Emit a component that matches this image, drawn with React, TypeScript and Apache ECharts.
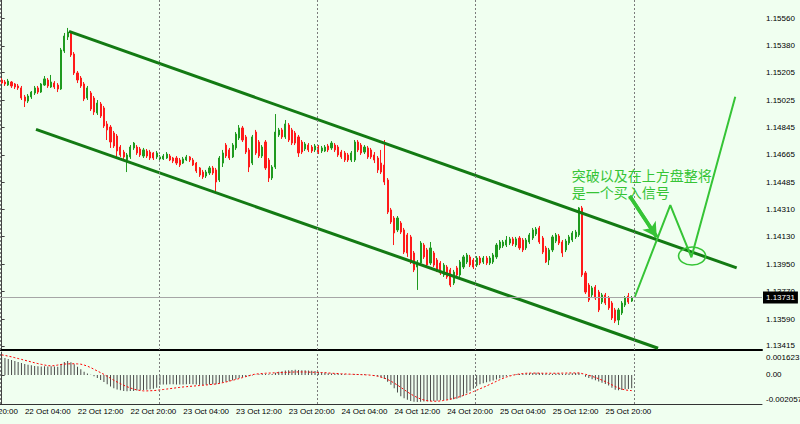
import React, { useEffect, useRef } from "react";
import * as echarts from "echarts";

// ---------- time axis ----------
const MONTHS = ["Jan", "Feb", "Mar", "Apr", "May", "Jun", "Jul", "Aug", "Sep", "Oct", "Nov", "Dec"];
const firstBarTime = Date.UTC(2018, 9, 21, 21, 0);
const barMinutes = 30;
const slotCount = 231; // bar slots incl. empty space to the right
const labelEvery = 16;
const labelOffset = 14;
const hiddenLeftLabel = { slot: -2, text: "21 Oct 20:00" };

// ---------- EURUSD M30 candles: [open, close, low, high] ----------
const candles: number[][] = [
  [1.15156, 1.15136, 1.1513, 1.15169], [1.15143, 1.1513, 1.15117, 1.15156], [1.15123, 1.15149, 1.15117, 1.15163],
  [1.15143, 1.15117, 1.15104, 1.15149], [1.1513, 1.1511, 1.15097, 1.15136], [1.15117, 1.15104, 1.15091, 1.1513],
  [1.15104, 1.15038, 1.15025, 1.15117], [1.15045, 1.15018, 1.14979, 1.15058], [1.15018, 1.15051, 1.15005, 1.15064],
  [1.15045, 1.15077, 1.15032, 1.15084], [1.15071, 1.15104, 1.15058, 1.15117], [1.15104, 1.15077, 1.15064, 1.15117],
  [1.15077, 1.1513, 1.15071, 1.15136], [1.15123, 1.15163, 1.15117, 1.15182], [1.15156, 1.15117, 1.15104, 1.15169],
  [1.1511, 1.15143, 1.15104, 1.15189], [1.15136, 1.1511, 1.15097, 1.15149], [1.15123, 1.15097, 1.15077, 1.15136],
  [1.15097, 1.15353, 1.15091, 1.15366], [1.15346, 1.15444, 1.15333, 1.15464], [1.15438, 1.1547, 1.15418, 1.15497],
  [1.1547, 1.1532, 1.15307, 1.15477], [1.15326, 1.15202, 1.15189, 1.15339], [1.15202, 1.15156, 1.15136, 1.15215],
  [1.15169, 1.15117, 1.15104, 1.15182], [1.1513, 1.15032, 1.15018, 1.15143], [1.15038, 1.15104, 1.15025, 1.15117],
  [1.15071, 1.14966, 1.14953, 1.15084], [1.15038, 1.14946, 1.14927, 1.15051], [1.1494, 1.15005, 1.14927, 1.15025],
  [1.14999, 1.1492, 1.14907, 1.15012], [1.14973, 1.14855, 1.14842, 1.14986], [1.14868, 1.14829, 1.14763, 1.14887],
  [1.14848, 1.1475, 1.14711, 1.14861], [1.14809, 1.14724, 1.14711, 1.14822], [1.14789, 1.14691, 1.14652, 1.14802],
  [1.14717, 1.14665, 1.14652, 1.1473], [1.14684, 1.14652, 1.14632, 1.14698], [1.14632, 1.14665, 1.14553, 1.14678],
  [1.14652, 1.14717, 1.14639, 1.1473], [1.14711, 1.14743, 1.14698, 1.1475], [1.14717, 1.14678, 1.14665, 1.1473],
  [1.14704, 1.14665, 1.14652, 1.14717], [1.14658, 1.14698, 1.14645, 1.14711], [1.14691, 1.14658, 1.14645, 1.14704],
  [1.14684, 1.14645, 1.14632, 1.14698], [1.14678, 1.14645, 1.14632, 1.14684], [1.14652, 1.14678, 1.14639, 1.14691],
  [1.14639, 1.14652, 1.14625, 1.14665], [1.14639, 1.14658, 1.14632, 1.14671], [1.14645, 1.14671, 1.14639, 1.14684],
  [1.14658, 1.14632, 1.14625, 1.14671], [1.14645, 1.14625, 1.14612, 1.14652], [1.14645, 1.14612, 1.14599, 1.14658],
  [1.14632, 1.14599, 1.14586, 1.14645], [1.14612, 1.14639, 1.14606, 1.14652], [1.14632, 1.14652, 1.14625, 1.14665],
  [1.14652, 1.14632, 1.14619, 1.14658], [1.14632, 1.14599, 1.14593, 1.14645], [1.14612, 1.1456, 1.14547, 1.14619],
  [1.1458, 1.14534, 1.14521, 1.14586], [1.14553, 1.14521, 1.14508, 1.14567], [1.14527, 1.14553, 1.14514, 1.14567],
  [1.14547, 1.1458, 1.14534, 1.14593], [1.1458, 1.14547, 1.14534, 1.14593], [1.14567, 1.14488, 1.14422, 1.1458],
  [1.14501, 1.14645, 1.14488, 1.14658], [1.14612, 1.14678, 1.14586, 1.14698], [1.1473, 1.14658, 1.14645, 1.14743],
  [1.14698, 1.14645, 1.14632, 1.14711], [1.14652, 1.1473, 1.14645, 1.14743], [1.14711, 1.14802, 1.14698, 1.14815],
  [1.14776, 1.14842, 1.14763, 1.14861], [1.14842, 1.14763, 1.1475, 1.14855], [1.14783, 1.14684, 1.14671, 1.14796],
  [1.14698, 1.14586, 1.14553, 1.14711], [1.14612, 1.14783, 1.14599, 1.14796], [1.14815, 1.14678, 1.14665, 1.14829],
  [1.1475, 1.14658, 1.14645, 1.14763], [1.14658, 1.14717, 1.14645, 1.1473], [1.1475, 1.1458, 1.14567, 1.14763],
  [1.14632, 1.14514, 1.14488, 1.14645], [1.14514, 1.14586, 1.14501, 1.14599], [1.14586, 1.14815, 1.14573, 1.14933],
  [1.14796, 1.14829, 1.14783, 1.14842], [1.14829, 1.14783, 1.1477, 1.14842], [1.14783, 1.14868, 1.1477, 1.14894],
  [1.14861, 1.14763, 1.1475, 1.14874], [1.14829, 1.14743, 1.1473, 1.14842], [1.14809, 1.14743, 1.1473, 1.14822],
  [1.14783, 1.14678, 1.14652, 1.14796], [1.1475, 1.14684, 1.14671, 1.14763], [1.14704, 1.14737, 1.14691, 1.1475],
  [1.1473, 1.14698, 1.14684, 1.14743], [1.14717, 1.14691, 1.14678, 1.1473], [1.14698, 1.14724, 1.14684, 1.14737],
  [1.14717, 1.14684, 1.14671, 1.1473], [1.14691, 1.14711, 1.14678, 1.14724], [1.14691, 1.14717, 1.14684, 1.1473],
  [1.14724, 1.14698, 1.14684, 1.14737], [1.14711, 1.14743, 1.14698, 1.14756], [1.1473, 1.14698, 1.14684, 1.14743],
  [1.14717, 1.14665, 1.14652, 1.1473], [1.14684, 1.14652, 1.14639, 1.14698], [1.14678, 1.14632, 1.14619, 1.14691],
  [1.14665, 1.14632, 1.14619, 1.14678], [1.14632, 1.14678, 1.14619, 1.14691], [1.14632, 1.1475, 1.14619, 1.14763],
  [1.1475, 1.14698, 1.14684, 1.14763], [1.1473, 1.14678, 1.14665, 1.14743], [1.14684, 1.14717, 1.14671, 1.1473],
  [1.14711, 1.14652, 1.14639, 1.14724], [1.14698, 1.14652, 1.14639, 1.14711], [1.14665, 1.14632, 1.14612, 1.14684],
  [1.14645, 1.14567, 1.14547, 1.14658], [1.14612, 1.14553, 1.1454, 1.14698], [1.14599, 1.14488, 1.14468, 1.14763],
  [1.14501, 1.14291, 1.14278, 1.14514], [1.14305, 1.14226, 1.14213, 1.14318], [1.14252, 1.14154, 1.14075, 1.14265],
  [1.14174, 1.14252, 1.1416, 1.14265], [1.14219, 1.1416, 1.14147, 1.14232], [1.14174, 1.14029, 1.14016, 1.14187],
  [1.14141, 1.14023, 1.13997, 1.14154], [1.14128, 1.13964, 1.13951, 1.14141], [1.14023, 1.13912, 1.13898, 1.14036],
  [1.13931, 1.13964, 1.13781, 1.13977], [1.13957, 1.14088, 1.13944, 1.14101], [1.14075, 1.13997, 1.13984, 1.14088],
  [1.14043, 1.13944, 1.13931, 1.14056], [1.13957, 1.14056, 1.13944, 1.14095], [1.14023, 1.13944, 1.13931, 1.14036],
  [1.13977, 1.13912, 1.13898, 1.1399], [1.13957, 1.13892, 1.13879, 1.1397], [1.13879, 1.13944, 1.13866, 1.13957],
  [1.13931, 1.13866, 1.13853, 1.13944], [1.13912, 1.13813, 1.138, 1.13925], [1.13826, 1.13898, 1.13813, 1.13912],
  [1.13925, 1.13879, 1.13866, 1.13938], [1.13879, 1.13964, 1.13866, 1.13977], [1.13931, 1.13997, 1.13918, 1.1401],
  [1.13964, 1.1401, 1.13951, 1.14023], [1.13997, 1.13944, 1.13931, 1.1401], [1.13977, 1.13931, 1.13918, 1.1399],
  [1.13944, 1.1399, 1.13931, 1.14003], [1.1399, 1.13957, 1.13944, 1.14003], [1.13964, 1.1399, 1.13951, 1.14003],
  [1.1399, 1.13957, 1.13944, 1.14003], [1.13957, 1.1399, 1.13944, 1.14003], [1.13964, 1.1401, 1.13951, 1.14023],
  [1.13997, 1.14075, 1.13984, 1.14088], [1.14056, 1.14095, 1.14043, 1.14108], [1.14069, 1.14095, 1.14056, 1.14108],
  [1.14075, 1.14108, 1.14062, 1.14134], [1.14088, 1.14115, 1.14075, 1.14128], [1.14115, 1.14082, 1.14069, 1.14128],
  [1.14075, 1.14115, 1.14062, 1.14128], [1.14121, 1.14056, 1.14043, 1.14134], [1.14108, 1.14043, 1.14029, 1.14121],
  [1.14056, 1.14108, 1.14043, 1.14121], [1.14095, 1.14141, 1.14082, 1.14154], [1.14121, 1.14174, 1.14108, 1.14187],
  [1.14147, 1.1418, 1.14134, 1.14193], [1.14187, 1.14095, 1.14082, 1.142], [1.14121, 1.14029, 1.14016, 1.14134],
  [1.14056, 1.13964, 1.13957, 1.14069], [1.13977, 1.14043, 1.13944, 1.14056], [1.14043, 1.14128, 1.14029, 1.14141],
  [1.14101, 1.14141, 1.14088, 1.14154], [1.14134, 1.14088, 1.14075, 1.14147], [1.14095, 1.14023, 1.13997, 1.14108],
  [1.14043, 1.14101, 1.14029, 1.14115], [1.14088, 1.14128, 1.14075, 1.14141], [1.14108, 1.14154, 1.14095, 1.14167],
  [1.14128, 1.1416, 1.14115, 1.14174], [1.14141, 1.14318, 1.14128, 1.14324], [1.14318, 1.13879, 1.13866, 1.14331],
  [1.13892, 1.13767, 1.13754, 1.13905], [1.13813, 1.13715, 1.13702, 1.13826], [1.13748, 1.13794, 1.13735, 1.13807],
  [1.138, 1.13728, 1.13715, 1.13813], [1.13767, 1.1365, 1.13636, 1.13781], [1.13702, 1.13748, 1.13689, 1.13761],
  [1.13748, 1.13695, 1.13682, 1.13761], [1.13728, 1.13663, 1.1365, 1.13741], [1.13695, 1.13597, 1.13584, 1.13708],
  [1.1365, 1.13577, 1.13564, 1.13663], [1.13584, 1.1365, 1.13551, 1.13663], [1.1363, 1.13695, 1.13617, 1.13708],
  [1.13682, 1.13728, 1.13669, 1.13741], [1.13741, 1.13702, 1.13689, 1.13761], [1.13708, 1.13731, 1.13702, 1.13741],
];

// ---------- MACD (histogram = MACD main, red dotted = signal) ----------
const macdHist: number[] = [
  0.00125, 0.0012, 0.00113, 0.00106, 0.00099, 0.00092, 0.00085, 0.00078, 0.00072, 0.00068,
  0.00064, 0.00062, 0.0006, 0.00061, 0.0006, 0.00062, 0.0006, 0.00058, 0.00078, 0.00092,
  0.00098, 0.0009, 0.00076, 0.00058, 0.0004, 0.00022, 0.0001, 0.00002, -0.0001, -0.00022,
  -0.00035, -0.0005, -0.00066, -0.00082, -0.00094, -0.00103, -0.00109, -0.00113, -0.00115, -0.00114,
  -0.00113, -0.00111, -0.00109, -0.00107, -0.00105, -0.00102, -0.00098, -0.0009, -0.0007, -0.00068,
  -0.00067, -0.00066, -0.00066, -0.00067, -0.00068, -0.00067, -0.00066, -0.00065, -0.00066, -0.00068,
  -0.0007, -0.00071, -0.0007, -0.00068, -0.00066, -0.00066, -0.0006, -0.00054, -0.00048, -0.00044,
  -0.00038, -0.0003, -0.00022, -0.00016, -0.00012, -0.0001, -0.00004, 0.00002, 0.00005, 0.00008,
  0.00006, 0.00004, 0.00006, 0.00015, 0.00022, 0.00026, 0.00032, 0.00034, 0.00035, 0.00036,
  0.00035, 0.00034, 0.00033, 0.00032, 0.0003, 0.00027, 0.00022, 0.00018, 0.00015, 0.00012,
  0.00011, 0.0001, 0.00008, 0.00006, 0.00004, 0.00002, 0.00002, 0.00005, 0.00006, 0.00005,
  0.00004, 0.00002, -0.00001, -0.00004, -0.0001, -0.00018, -0.00028, -0.00048, -0.0007, -0.00095,
  -0.00125, -0.0015, -0.00165, -0.00176, -0.00185, -0.0019, -0.00191, -0.00189, -0.00188, -0.00188,
  -0.00186, -0.00184, -0.00182, -0.0018, -0.00178, -0.00176, -0.00175, -0.00172, -0.00168, -0.0016,
  -0.00148, -0.0013, -0.00112, -0.00098, -0.0008, -0.00066, -0.00058, -0.00052, -0.00046, -0.0004,
  -0.00032, -0.00024, -0.00018, -0.0001, -0.00004, 0.00002, 0.00005, 0.00006, 0.00007, 0.0001,
  0.00012, 0.00014, 0.00015, 0.00014, 0.00012, 0.00008, 0.00007, 0.00009, 0.0001, 0.0001,
  0.00008, 0.00009, 0.0001, 0.00012, 0.00013, 0.00016, 0.00002, -0.00012, -0.00022, -0.0003,
  -0.00038, -0.00047, -0.00055, -0.00064, -0.00075, -0.0009, -0.00104, -0.00108, -0.00106, -0.00102,
  -0.00099, -0.00094,
];

const macdSignal: number[] = [
  0.00142, 0.00138, 0.00133, 0.00128, 0.00122, 0.00116, 0.0011, 0.00104, 0.00098, 0.00092,
  0.00086, 0.0008, 0.00075, 0.0007, 0.00066, 0.00064, 0.00066, 0.0007, 0.00074, 0.00077,
  0.00078, 0.00079, 0.00079, 0.00078, 0.00076, 0.0007, 0.00062, 0.00052, 0.0004, 0.00028,
  0.00016, 0.00004, -0.0001, -0.00024, -0.00038, -0.0005, -0.00062, -0.00073, -0.00083, -0.00092,
  -0.001, -0.00106, -0.0011, -0.00113, -0.00113, -0.00112, -0.00111, -0.00109, -0.00106, -0.00103,
  -0.001, -0.00097, -0.00094, -0.00091, -0.00088, -0.00085, -0.00083, -0.00081, -0.00079, -0.00077,
  -0.00075, -0.00073, -0.00071, -0.00069, -0.00066, -0.00064, -0.0006, -0.00055, -0.0005, -0.00044,
  -0.00038, -0.00032, -0.00026, -0.00019, -0.00012, -0.00005, 0.00002, 0.00006, 0.00008, 0.0001,
  0.00012, 0.00013, 0.00014, 0.00015, 0.00016, 0.00017, 0.00018, 0.00019, 0.0002, 0.00021,
  0.00021, 0.00021, 0.00021, 0.0002, 0.00019, 0.00019, 0.00018, 0.00017, 0.00016, 0.00014,
  0.00012, 0.00011, 0.0001, 0.00008, 0.00007, 0.00006, 0.00005, 0.00004, 0.00003, 0.00002,
  0.00001, 0.0, -0.00002, -0.00005, -0.00009, -0.00015, -0.00022, -0.00032, -0.00044, -0.00058,
  -0.00072, -0.00088, -0.00104, -0.0012, -0.00135, -0.00148, -0.0016, -0.0017, -0.00177, -0.00182,
  -0.00185, -0.00186, -0.00186, -0.00184, -0.00181, -0.00177, -0.00172, -0.00166, -0.0016, -0.00153,
  -0.00145, -0.00137, -0.00128, -0.00118, -0.00108, -0.00098, -0.00088, -0.00078, -0.00067, -0.00056,
  -0.00045, -0.00034, -0.00024, -0.00015, -0.00008, -0.00002, 0.00003, 0.00007, 0.0001, 0.00012,
  0.00013, 0.00013, 0.00013, 0.00013, 0.00012, 0.00012, 0.00012, 0.00012, 0.00012, 0.00012,
  0.00013, 0.00013, 0.00014, 0.00014, 0.00014, 0.00014, 0.0001, 0.00004, -0.00002, -0.0001,
  -0.00018, -0.00027, -0.00037, -0.00047, -0.00058, -0.0007, -0.00082, -0.00092, -0.001, -0.00106,
  -0.00109, -0.00111,
];

// ---------- axes ----------
const priceTicks = [1.1556, 1.1538, 1.15205, 1.15025, 1.14845, 1.14665, 1.14485, 1.1431, 1.1413, 1.1395, 1.1377, 1.1359, 1.13415];
const priceRange = [1.133875, 1.1568];
const macdRange = [-0.002057, 0.001623];
const lastPrice = 1.13731;
const gridLineSlots = [-0.3, 47.7, 95.7, 143.7, 191.7];

// ---------- drawn objects (slot index, price) ----------
const upperChannel = [[20.41, 1.15474], [222.83, 1.13925]];
const lowerChannel = [[10.41, 1.14833], [198.99, 1.13399]];
const forecastPath = [[191.9, 1.13733], [202.7, 1.14337], [209.1, 1.13995], [222.4, 1.15047]];
const arrowPath = [[190.4, 1.14396], [198.6, 1.14128]];
const circleCenter = [209.3, 1.14003];
const noteAnchor = [172.8, 1.14589];
const noteText = "突破以及在上方盘整将\n是一个买入信号";

const FONT = '"Liberation Sans", Arial, sans-serif';
const BG = "#f0fff0";
const CHANNEL = "#137a13";
const NOTE = "#36c436";

function fmtTime(t: number) {
  const d = new Date(t);
  const p = (n: number) => String(n).padStart(2, "0");
  return `${d.getUTCDate()} ${MONTHS[d.getUTCMonth()]} ${p(d.getUTCHours())}:${p(d.getUTCMinutes())}`;
}
const categories = Array.from({ length: slotCount }, (_, k) => fmtTime(firstBarTime + k * barMinutes * 60000));

export default function App() {
  const ref = useRef<HTMLDivElement>(null);

  useEffect(() => {
    if (!ref.current) return;
    const chart = echarts.init(ref.current, null, { renderer: "svg" });
    const slotMin = -0.5;
    const slotMax = slotCount - 0.5;
    const vline = (name: string, xi: number, yi: number) => ({
      name,
      type: "line",
      xAxisIndex: xi,
      yAxisIndex: yi,
      data: [],
      silent: true,
      z: 1,
      markLine: {
        silent: true,
        symbol: "none",
        precision: 3,
        label: { show: false },
        lineStyle: { color: "#7c7c7c", width: 1, type: [2, 2] },
        data: gridLineSlots.map((v) => ({ xAxis: v })),
      },
    });

    const option: any = {
      animation: false,
      backgroundColor: BG,
      grid: [
        { left: 0, top: 0, width: 762, height: 350 },
        { left: 0, top: 352, width: 762, height: 52 },
      ],
      xAxis: [
        {
          type: "category", gridIndex: 0, data: categories, boundaryGap: true,
          axisLabel: { show: false }, axisTick: { show: false }, splitLine: { show: false },
          axisLine: { show: true, onZero: false, lineStyle: { color: "#000", width: 2 } },
        },
        {
          type: "category", gridIndex: 1, data: categories, boundaryGap: true,
          axisTick: { show: false }, splitLine: { show: false },
          axisLine: { show: true, onZero: false, lineStyle: { color: "#333", width: 1 } },
          axisLabel: {
            interval: (idx: number) => idx % labelEvery === labelOffset && idx < candles.length,
            fontSize: 8, color: "#000", margin: 3, fontFamily: FONT,
          },
        },
        { type: "value", gridIndex: 0, min: slotMin, max: slotMax, show: false },
        { type: "value", gridIndex: 1, min: slotMin, max: slotMax, show: false },
      ],
      yAxis: [
        {
          type: "value", gridIndex: 0, position: "right", min: priceRange[0], max: priceRange[1],
          splitLine: { show: false },
          axisLine: { show: true, lineStyle: { color: "#444", width: 1 } },
          axisTick: { show: true, length: 3, customValues: priceTicks, lineStyle: { color: "#444" } },
          axisLabel: {
            customValues: priceTicks, formatter: (v: number) => v.toFixed(5),
            fontSize: 8, color: "#000", margin: 4, fontFamily: FONT,
          },
        },
        {
          type: "value", gridIndex: 1, position: "right", min: macdRange[0], max: macdRange[1],
          splitLine: { show: false },
          axisLine: { show: true, lineStyle: { color: "#444", width: 1 } },
          axisTick: { show: true, length: 3, customValues: [0], lineStyle: { color: "#444" } },
          axisLabel: {
            customValues: [0], formatter: () => "0.00",
            fontSize: 8, color: "#000", margin: 4, fontFamily: FONT,
          },
        },
      ],
      series: [
        vline("grid-main", 2, 0),
        vline("grid-sub", 3, 1),
        {
          name: "EURUSD", type: "candlestick", xAxisIndex: 0, yAxisIndex: 0, z: 2,
          barWidth: 1.6,
          data: candles,
          itemStyle: { color: "#1f9a1f", color0: "#ff1a1a", borderColor: "#1f9a1f", borderColor0: "#ff1a1a", borderWidth: 1 },
        },
        {
          name: "bid", type: "line", xAxisIndex: 2, yAxisIndex: 0, z: 2, silent: true,
          data: [], symbol: "none",
          markLine: {
            silent: true, symbol: "none", precision: 6,
            lineStyle: { color: "#a6a6a6", width: 1, type: "solid" },
            label: {
              show: true, position: "end", formatter: lastPrice.toFixed(5),
              backgroundColor: "#000", color: "#fff", fontSize: 8, fontFamily: FONT,
              padding: [2, 3, 2, 3], distance: 1,
            },
            data: [{ yAxis: lastPrice }],
          },
        },
        {
          name: "upper", type: "line", xAxisIndex: 2, yAxisIndex: 0, z: 3, silent: true,
          data: upperChannel, symbol: "none", lineStyle: { color: CHANNEL, width: 3 },
        },
        {
          name: "lower", type: "line", xAxisIndex: 2, yAxisIndex: 0, z: 3, silent: true,
          data: lowerChannel, symbol: "none", lineStyle: { color: CHANNEL, width: 3 },
        },
        {
          name: "forecast", type: "line", xAxisIndex: 2, yAxisIndex: 0, z: 4, silent: true,
          data: forecastPath, symbol: "none", lineStyle: { color: NOTE, width: 2 },
        },
        {
          name: "arrow", type: "line", xAxisIndex: 2, yAxisIndex: 0, z: 4, silent: true,
          data: arrowPath, symbol: "none", lineStyle: { color: NOTE, width: 3.5 },
          markLine: {
            silent: true, symbol: ["none", "arrow"], symbolSize: [12, 14], precision: 6,
            label: { show: false },
            lineStyle: { color: NOTE, width: 3.5, type: "solid" },
            data: [[{ coord: arrowPath[0] }, { coord: arrowPath[1] }]],
          },
        },
        {
          name: "MACD", type: "bar", xAxisIndex: 1, yAxisIndex: 1, z: 2,
          barWidth: 1, data: macdHist, itemStyle: { color: "#4a4a4a" },
        },
        {
          name: "Signal", type: "line", xAxisIndex: 1, yAxisIndex: 1, z: 3,
          data: macdSignal, symbol: "none", lineStyle: { color: "#ff0000", width: 1, type: [2, 2] },
        },
      ],
    };
    chart.setOption(option);

    const toPx = (pt: number[]) => chart.convertToPixel({ xAxisIndex: 2, yAxisIndex: 0 } as any, pt) as unknown as number[];
    const c = toPx(circleCenter);
    const n = toPx(noteAnchor);
    const subTop = chart.convertToPixel({ yAxisIndex: 1 } as any, macdRange[1]) as unknown as number;
    const subBottom = chart.convertToPixel({ yAxisIndex: 1 } as any, macdRange[0]) as unknown as number;
    const axisX = chart.convertToPixel({ xAxisIndex: 3 } as any, slotMax) as unknown as number;
    const leftLabelX = chart.convertToPixel({ xAxisIndex: 3 } as any, hiddenLeftLabel.slot) as unknown as number;

    chart.setOption({
      graphic: [
        {
          type: "ellipse", z: 20, silent: true,
          shape: { cx: c[0], cy: c[1], rx: 13.5, ry: 9 },
          style: { fill: "none", stroke: NOTE, lineWidth: 1.6 },
        },
        {
          type: "text", z: 20, silent: true, x: n[0], y: n[1],
          style: {
            text: noteText, fill: NOTE, font: '14px "Noto Sans CJK SC"', lineHeight: 17,
            textAlign: "left", textVerticalAlign: "top",
          },
        },
        {
          type: "text", z: 20, silent: true, x: axisX + 4, y: subTop + 1,
          style: { text: macdRange[1].toFixed(6), fill: "#000", font: `8px ${FONT}`, textVerticalAlign: "top" },
        },
        {
          type: "text", z: 20, silent: true, x: axisX + 4, y: subBottom - 1,
          style: { text: macdRange[0].toFixed(6), fill: "#000", font: `8px ${FONT}`, textVerticalAlign: "bottom" },
        },
        {
          type: "text", z: 20, silent: true, x: leftLabelX, y: subBottom + 3,
          style: { text: hiddenLeftLabel.text, fill: "#000", font: `8px ${FONT}`, textAlign: "center", textVerticalAlign: "top" },
        },
      ],
    });

    return () => chart.dispose();
  }, []);

  return (
    <div
      ref={ref}
      style={{ position: "absolute", left: 0, top: 0, width: 800, height: 424, background: BG }}
    />
  );
}
